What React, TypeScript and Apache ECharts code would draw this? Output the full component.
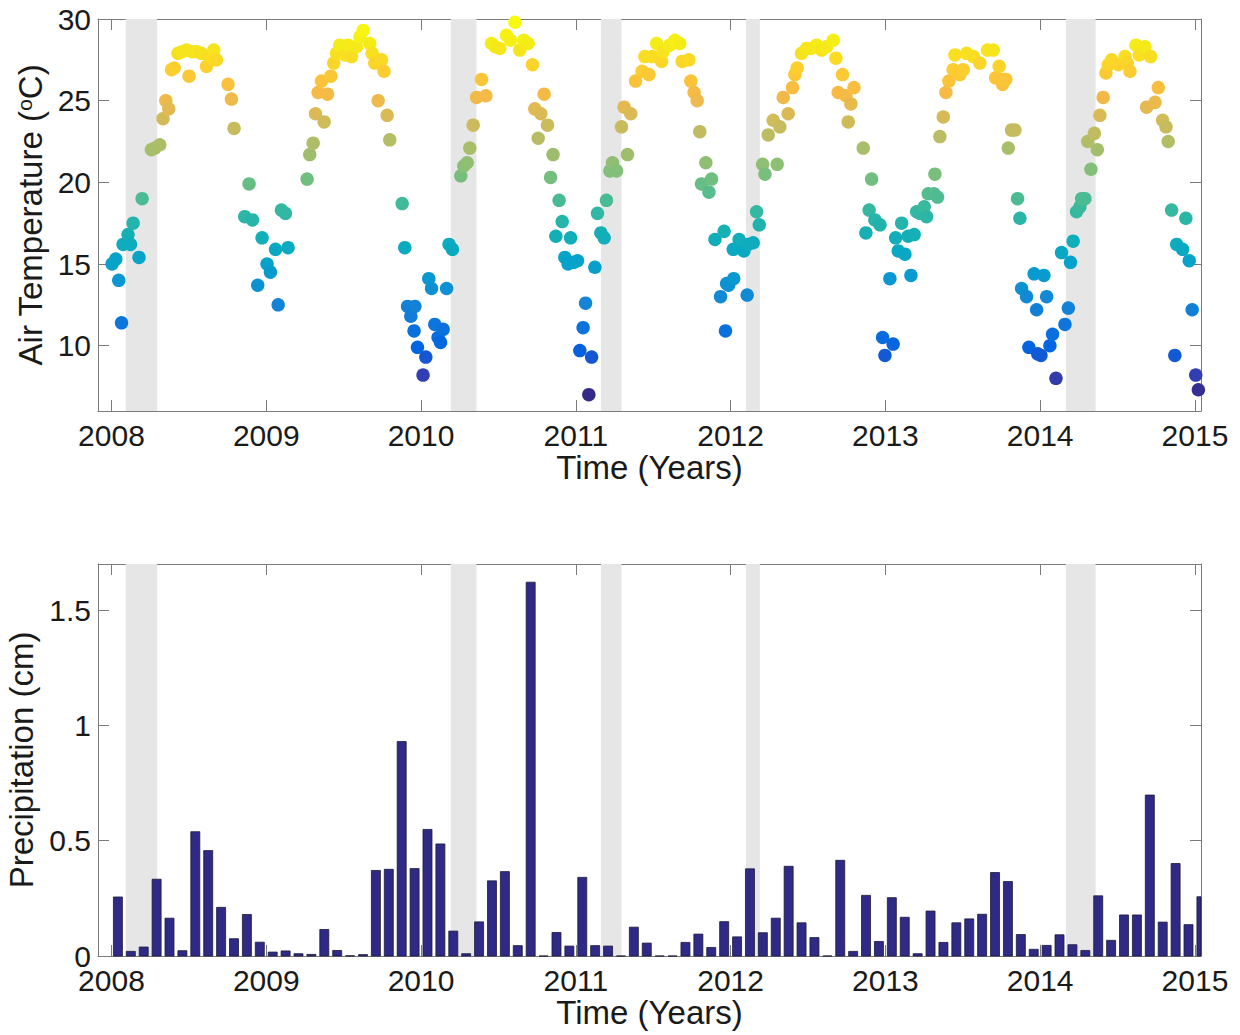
import React, { useEffect, useRef } from "react";
import * as echarts from "echarts";

// ---------- DATA ----------
const yearTicks = [2008, 2009, 2010, 2011, 2012, 2013, 2014, 2015];
const tempTicks = [10, 15, 20, 25, 30];
const precipTicks = [0, 0.5, 1, 1.5];

// Shaded periods (decimal years)
const bandStarts = [2008.092, 2010.192, 2011.162, 2012.099, 2014.166];
const bandEnds = [2008.295, 2010.358, 2011.295, 2012.189, 2014.358];

// Air temperature observations: [decimal year, °C]
const temp2008 = [
  [2008.004, 15.0], [2008.028, 15.3], [2008.047, 14.0], [2008.065, 11.4], [2008.075, 16.2],
  [2008.107, 16.8], [2008.123, 16.2], [2008.14, 17.5], [2008.178, 15.4], [2008.198, 19.0],
  [2008.258, 22.0], [2008.28, 22.1], [2008.312, 22.3], [2008.333, 23.9], [2008.351, 25.0],
  [2008.37, 24.5], [2008.388, 26.9], [2008.405, 27.0], [2008.43, 27.9], [2008.456, 28.0],
  [2008.485, 28.1], [2008.501, 26.5], [2008.52, 28.0], [2008.549, 28.0], [2008.582, 27.9],
  [2008.614, 27.1], [2008.635, 27.7], [2008.661, 28.1], [2008.678, 27.5], [2008.753, 26.0],
  [2008.775, 25.1], [2008.792, 23.3], [2008.861, 17.9], [2008.889, 19.9], [2008.911, 17.7],
  [2008.945, 13.7], [2008.973, 16.6],
];
const temp2009 = [
  [2009.005, 15.0], [2009.027, 14.5], [2009.06, 15.9], [2009.077, 12.5], [2009.098, 18.3],
  [2009.124, 18.1], [2009.141, 16.0], [2009.264, 20.2], [2009.281, 21.7], [2009.303, 22.4],
  [2009.318, 24.2], [2009.335, 25.5], [2009.357, 26.2], [2009.374, 23.7], [2009.396, 25.4],
  [2009.417, 26.5], [2009.436, 27.3], [2009.454, 27.9], [2009.475, 28.4], [2009.507, 27.8],
  [2009.529, 28.4], [2009.551, 27.7], [2009.583, 28.3], [2009.605, 28.9], [2009.626, 29.3],
  [2009.669, 28.5], [2009.684, 27.9], [2009.701, 27.3], [2009.723, 25.0], [2009.745, 27.5],
  [2009.761, 26.8], [2009.781, 24.1], [2009.798, 22.6], [2009.878, 18.7], [2009.895, 16.0],
  [2009.913, 12.4], [2009.934, 11.8], [2009.955, 10.9], [2009.96, 12.4], [2009.977, 9.9],
];
const temp2010 = [
  [2010.013, 8.2], [2010.031, 9.3], [2010.05, 14.1], [2010.068, 13.5], [2010.089, 11.3],
  [2010.11, 10.5], [2010.126, 10.2], [2010.143, 11.0], [2010.165, 13.5], [2010.181, 16.2],
  [2010.203, 15.9], [2010.257, 20.4], [2010.276, 21.0], [2010.298, 21.2], [2010.315, 22.1],
  [2010.337, 23.5], [2010.359, 25.2], [2010.391, 26.3], [2010.419, 25.3], [2010.455, 28.5],
  [2010.48, 28.3], [2010.509, 28.2], [2010.552, 29.0], [2010.578, 28.7], [2010.606, 29.8],
  [2010.638, 28.1], [2010.664, 28.7], [2010.692, 28.5], [2010.72, 27.2], [2010.735, 24.5],
  [2010.757, 22.7], [2010.774, 24.2], [2010.795, 25.4], [2010.817, 23.5], [2010.837, 20.3],
  [2010.853, 21.7], [2010.871, 16.7], [2010.892, 18.9], [2010.912, 17.6], [2010.929, 15.4],
  [2010.95, 15.0], [2010.966, 16.6], [2010.985, 15.1],
];
const temp2011 = [
  [2011.011, 15.2], [2011.026, 9.7], [2011.047, 11.1], [2011.063, 12.6], [2011.084, 7.0],
  [2011.102, 9.3], [2011.123, 14.8], [2011.14, 18.1], [2011.162, 16.9], [2011.183, 16.6],
  [2011.198, 18.9], [2011.22, 20.7], [2011.237, 21.2], [2011.263, 20.7], [2011.295, 23.4],
  [2011.312, 24.6], [2011.334, 21.7], [2011.355, 24.2], [2011.386, 26.2], [2011.428, 26.8],
  [2011.446, 27.7], [2011.472, 26.6], [2011.493, 27.7], [2011.522, 28.5], [2011.554, 27.4],
  [2011.564, 28.0], [2011.607, 28.4], [2011.64, 28.7], [2011.672, 28.5], [2011.687, 27.4],
  [2011.73, 27.5], [2011.743, 26.2], [2011.764, 25.5], [2011.784, 25.0], [2011.801, 23.1],
  [2011.812, 19.9], [2011.84, 21.2], [2011.86, 19.4], [2011.877, 20.2], [2011.899, 16.5],
  [2011.935, 13.0], [2011.958, 17.0], [2011.967, 10.9], [2011.974, 13.8], [2011.987, 13.7],
];
const temp2012 = [
  [2012.017, 15.9], [2012.02, 14.1], [2012.055, 16.5], [2012.086, 15.8], [2012.107, 13.1],
  [2012.113, 16.2], [2012.146, 16.3], [2012.168, 18.2], [2012.185, 17.4], [2012.207, 21.1],
  [2012.222, 20.5], [2012.243, 22.9], [2012.275, 23.8], [2012.301, 21.1], [2012.318, 23.4],
  [2012.34, 25.2], [2012.372, 24.2], [2012.4, 25.8], [2012.415, 26.6], [2012.43, 27.0],
  [2012.458, 27.9], [2012.491, 28.2], [2012.52, 28.2], [2012.555, 28.4], [2012.588, 28.1],
  [2012.62, 28.3], [2012.663, 28.7], [2012.68, 27.6], [2012.695, 25.5], [2012.723, 26.6],
  [2012.745, 25.3], [2012.76, 23.7], [2012.777, 24.8], [2012.797, 25.8], [2012.857, 22.1],
  [2012.874, 16.9], [2012.895, 18.3], [2012.911, 20.2], [2012.932, 17.7], [2012.965, 17.4],
  [2012.982, 10.5], [2012.997, 9.4],
];
const temp2013 = [
  [2013.029, 14.1], [2013.05, 10.1], [2013.066, 16.6], [2013.083, 15.8], [2013.105, 17.5],
  [2013.126, 15.6], [2013.147, 16.7], [2013.165, 14.3], [2013.186, 16.8], [2013.202, 18.2],
  [2013.223, 18.1], [2013.251, 18.5], [2013.266, 17.9], [2013.277, 19.3], [2013.315, 19.3],
  [2013.32, 20.5], [2013.337, 19.1], [2013.352, 22.8], [2013.374, 24.0], [2013.391, 25.5],
  [2013.41, 26.2], [2013.438, 26.9], [2013.449, 27.8], [2013.481, 26.6], [2013.503, 26.9],
  [2013.525, 27.9], [2013.568, 27.7], [2013.61, 27.3], [2013.66, 28.1], [2013.697, 28.1],
  [2013.712, 26.4], [2013.735, 27.1], [2013.757, 26.0], [2013.761, 26.3], [2013.778, 26.3],
  [2013.794, 22.1], [2013.815, 23.2], [2013.837, 23.2], [2013.854, 19.0], [2013.869, 17.8],
  [2013.88, 13.5], [2013.912, 13.0], [2013.927, 9.9], [2013.961, 14.4], [2013.977, 12.2],
  [2013.984, 9.5],
];
const temp2014 = [
  [2014.005, 9.4], [2014.024, 14.3], [2014.042, 13.0], [2014.063, 10.0], [2014.08, 10.7],
  [2014.102, 8.0], [2014.138, 15.7], [2014.16, 11.3], [2014.182, 12.3], [2014.196, 15.1],
  [2014.213, 16.4], [2014.235, 18.2], [2014.257, 18.5], [2014.268, 19.0], [2014.289, 19.0],
  [2014.307, 22.5], [2014.328, 20.8], [2014.35, 23.0], [2014.369, 22.0], [2014.386, 24.1],
  [2014.407, 25.2], [2014.425, 26.7], [2014.44, 27.2], [2014.462, 27.5], [2014.505, 27.2],
  [2014.548, 27.7], [2014.563, 27.3], [2014.58, 26.8], [2014.619, 28.4], [2014.64, 27.8],
  [2014.677, 28.3], [2014.688, 24.6], [2014.714, 27.7], [2014.742, 24.9], [2014.763, 25.8],
  [2014.791, 23.8], [2014.813, 23.4], [2014.827, 22.5], [2014.849, 18.3], [2014.87, 9.4],
  [2014.882, 16.2], [2014.92, 15.9], [2014.941, 17.8], [2014.963, 15.2], [2014.982, 12.2],
  [2015.005, 8.2], [2015.022, 7.3],
];

// Monthly precipitation (cm), January..December
const precip2008 = [0.256, 0.02, 0.039, 0.333, 0.164, 0.023, 0.539, 0.457, 0.211, 0.075, 0.18, 0.06];
const precip2009 = [0.017, 0.022, 0.01, 0.007, 0.115, 0.024, 0.001, 0.006, 0.371, 0.376, 0.93, 0.379];
const precip2010 = [0.549, 0.486, 0.108, 0.01, 0.148, 0.326, 0.366, 0.045, 1.621, 0, 0.102, 0.043];
const precip2011 = [0.341, 0.045, 0.043, 0, 0.125, 0.056, 0, 0, 0.059, 0.095, 0.037, 0.149];
const precip2012 = [0.083, 0.378, 0.101, 0.164, 0.389, 0.144, 0.08, 0, 0.415, 0.02, 0.263, 0.063];
const precip2013 = [0.253, 0.168, 0.01, 0.195, 0.059, 0.144, 0.161, 0.181, 0.362, 0.323, 0.093, 0.029];
const precip2014 = [0.046, 0.092, 0.049, 0.024, 0.261, 0.068, 0.178, 0.178, 0.698, 0.147, 0.401, 0.136];
const precip2015 = [0.257];

// Parula colormap stops
const parula = [
  "#352a87", "#3243ba", "#0363e1", "#0d75dc", "#1485d4", "#0998d1", "#06a7c6", "#16b1b4",
  "#38b99e", "#65be86", "#92bf73", "#b7bd64", "#d9ba56", "#f8ba44", "#fcce2e", "#f5eb18", "#f9fb0e",
];

// ---------- LAYOUT ----------
const X_MIN = 2007.913;
const X_MAX = 2015.039;
const T_MIN = 6;
const T_MAX = 30;
const P_MIN = 0;
const P_MAX = 1.7;
const BAR_WIDTH = 9;
const FONT = "'Liberation Sans', Arial, Helvetica, sans-serif";
const AXIS_COLOR = "#7a7a7a";
const TEXT_COLOR = "#1a1a1a";

export default function App() {
  const ref = useRef<HTMLDivElement>(null);

  useEffect(() => {
    document.body.style.margin = "0";
    if (!ref.current) return;
    const chart = echarts.init(ref.current, undefined, { renderer: "svg" });

    const tempData = [
      ...temp2008, ...temp2009, ...temp2010, ...temp2011,
      ...temp2012, ...temp2013, ...temp2014,
    ];
    const temps = tempData.map((d) => d[1]);
    const precipYears = [precip2008, precip2009, precip2010, precip2011, precip2012, precip2013, precip2014, precip2015];
    const precipData: number[][] = [];
    precipYears.forEach((arr, yi) => {
      arr.forEach((v, m) => precipData.push([2008 + yi + (m + 0.5) / 12, v]));
    });
    const bands = bandStarts.map((s, i) => [s, bandEnds[i]]);

    const tickStyle = {
      show: true,
      inside: true,
      length: 11,
      lineStyle: { color: AXIS_COLOR, width: 1 },
    };

    const xAxisBase = (gridIndex: number, position: "top" | "bottom", showLabel: boolean) => ({
      type: "value",
      gridIndex,
      position,
      min: X_MIN,
      max: X_MAX,
      splitLine: { show: false },
      axisLine: { show: true, onZero: false, lineStyle: { color: AXIS_COLOR, width: 1 } },
      axisTick: { ...tickStyle, customValues: yearTicks },
      axisLabel: {
        show: showLabel,
        customValues: yearTicks,
        formatter: (v: number) => String(Math.round(v)),
        fontSize: 30,
        lineHeight: 24,
        fontFamily: FONT,
        color: TEXT_COLOR,
        margin: 12,
      },
      name: showLabel ? "Time (Years)" : "",
      nameLocation: "middle",
      nameGap: 40,
      nameTextStyle: { fontSize: 33, fontFamily: FONT, color: TEXT_COLOR },
    });

    const yAxisBase = (
      gridIndex: number,
      position: "left" | "right",
      showLabel: boolean,
      min: number,
      max: number,
      ticks: number[],
      name: string,
      nameGap: number
    ) => ({
      type: "value",
      gridIndex,
      position,
      min,
      max,
      splitLine: { show: false },
      axisLine: { show: true, onZero: false, lineStyle: { color: AXIS_COLOR, width: 1 } },
      axisTick: { ...tickStyle, customValues: ticks },
      axisLabel: {
        show: showLabel,
        customValues: ticks,
        formatter: (v: number) => String(v),
        fontSize: 30,
        lineHeight: 20,
        fontFamily: FONT,
        color: TEXT_COLOR,
        margin: 7,
      },
      name: showLabel ? name : "",
      nameLocation: "middle",
      nameRotate: 90,
      nameGap,
      nameTextStyle: {
        fontSize: 33,
        fontFamily: FONT,
        color: TEXT_COLOR,
        rich: {
          sup: { fontSize: 21, fontFamily: FONT, color: TEXT_COLOR, verticalAlign: "top", lineHeight: 33 },
        },
      },
    });

    const bandRender = (yMin: number, yMax: number) => (params: any, api: any) => {
      const p1 = api.coord([api.value(0), yMax]);
      const p2 = api.coord([api.value(1), yMin]);
      return {
        type: "rect",
        shape: { x: p1[0], y: p1[1], width: p2[0] - p1[0], height: p2[1] - p1[1] },
        style: { fill: "#e6e6e6" },
        silent: true,
      };
    };

    const barRender = (params: any, api: any) => {
      const x = api.value(0);
      const v = api.value(1);
      const top = api.coord([x, v]);
      const base = api.coord([x, 0]);
      const left = top[0] - BAR_WIDTH / 2;
      const rect = { x: left, y: top[1], width: BAR_WIDTH, height: base[1] - top[1] };
      const clipped = echarts.graphic.clipRectByRect(rect, {
        x: params.coordSys.x,
        y: params.coordSys.y,
        width: params.coordSys.width,
        height: params.coordSys.height,
      });
      if (!clipped) return null;
      return {
        type: "rect",
        shape: clipped,
        style: { fill: "#2e2a86", stroke: "#1c1b3a", lineWidth: 0.8 },
      };
    };

    chart.setOption({
      animation: false,
      backgroundColor: "#ffffff",
      grid: [
        { left: 98, right: 39, top: 19, height: 392, containLabel: false, outerBoundsMode: "none" },
        { left: 98, right: 39, top: 564, height: 392, containLabel: false, outerBoundsMode: "none" },
      ],
      xAxis: [
        xAxisBase(0, "bottom", true),
        xAxisBase(0, "top", false),
        xAxisBase(1, "bottom", true),
        xAxisBase(1, "top", false),
      ],
      yAxis: [
        yAxisBase(0, "left", true, T_MIN, T_MAX, tempTicks, "Air Temperature ({sup|o}C)", 46),
        yAxisBase(0, "right", false, T_MIN, T_MAX, tempTicks, "", 0),
        yAxisBase(1, "left", true, P_MIN, P_MAX, precipTicks, "Precipitation (cm)", 57),
        yAxisBase(1, "right", false, P_MIN, P_MAX, precipTicks, "", 0),
      ],
      visualMap: {
        type: "continuous",
        show: false,
        seriesIndex: 1,
        dimension: 1,
        min: Math.min(...temps),
        max: Math.max(...temps),
        inRange: { color: parula },
      },
      series: [
        {
          type: "custom",
          xAxisIndex: 0,
          yAxisIndex: 0,
          data: bands,
          renderItem: bandRender(T_MIN, T_MAX),
          z: 1,
          silent: true,
        },
        {
          type: "scatter",
          xAxisIndex: 0,
          yAxisIndex: 0,
          data: tempData,
          symbol: "circle",
          symbolSize: 13.5,
          itemStyle: { opacity: 1 },
          clip: false,
          z: 3,
        },
        {
          type: "custom",
          xAxisIndex: 2,
          yAxisIndex: 2,
          data: bands,
          renderItem: bandRender(P_MIN, P_MAX),
          z: 1,
          silent: true,
        },
        {
          type: "custom",
          name: "Precipitation",
          xAxisIndex: 2,
          yAxisIndex: 2,
          data: precipData,
          renderItem: barRender,
          encode: { x: 0, y: 1 },
          z: 3,
        },
      ],
    });

    return () => chart.dispose();
  }, []);

  return <div ref={ref} style={{ width: 1240, height: 1035 }} />;
}
